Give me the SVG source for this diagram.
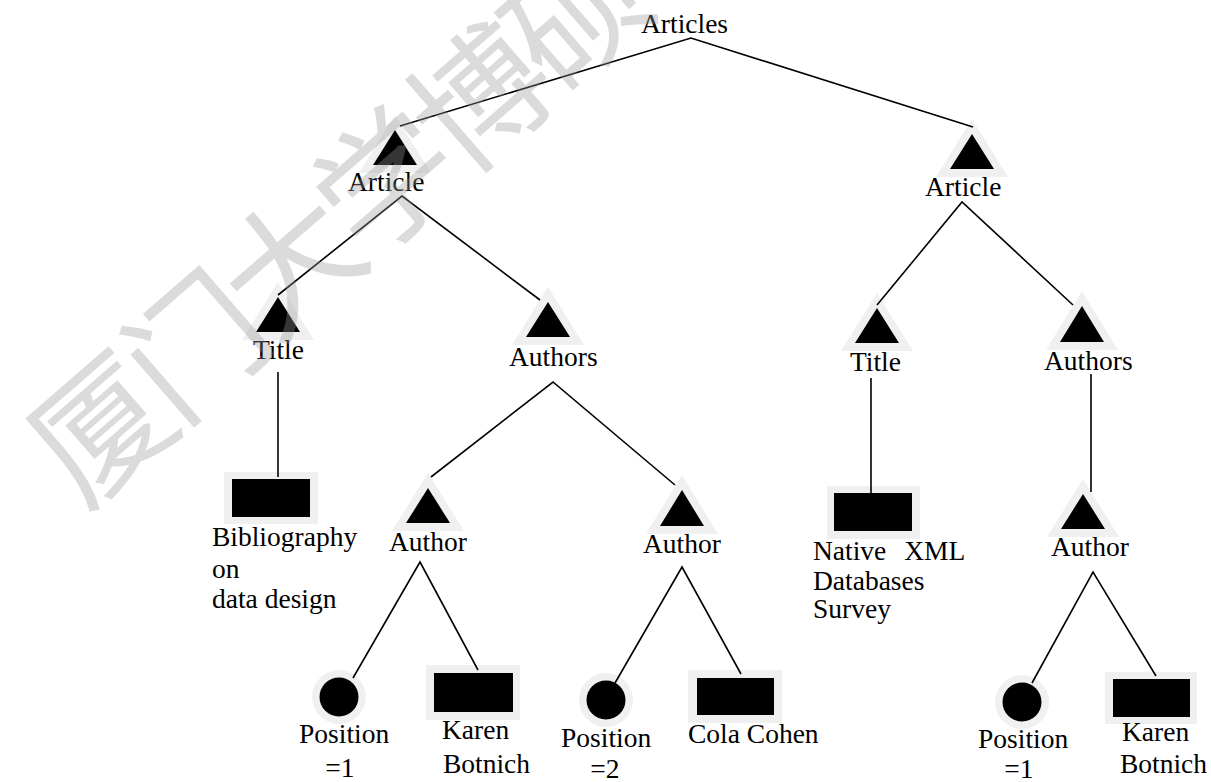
<svg xmlns="http://www.w3.org/2000/svg" width="1211" height="782" viewBox="0 0 1211 782">
<style>
.lbl{font-family:"Liberation Serif","Times New Roman",serif;font-size:27.5px;fill:#000}
.halo{fill:#f0f0f0}
.blk{fill:#000}
.edge{stroke:#000;stroke-width:1.6;fill:none}
.wm{font-family:"Noto Sans CJK SC","Noto Sans CJK TC",sans-serif;font-size:135px;fill:#999;opacity:0.35;letter-spacing:-9px}
</style>
<rect width="1211" height="782" fill="#fff"/>
<g id="halos">
<polygon class="halo" points="395,115 359,173 431,173"/>
<polygon class="halo" points="972,119 936,177 1008,177"/>
<polygon class="halo" points="278,282 242,340 314,340"/>
<polygon class="halo" points="548,287 512,345 584,345"/>
<polygon class="halo" points="877,293 841,351 913,351"/>
<polygon class="halo" points="1082,291 1046,350 1118,350"/>
<polygon class="halo" points="428,473 392,531 464,531"/>
<polygon class="halo" points="682,475 646,534 718,534"/>
<polygon class="halo" points="1083,479 1047,537 1119,537"/>
<rect class="halo" x="224" y="472" width="94" height="52"/>
<rect class="halo" x="426" y="665" width="94" height="55"/>
<rect class="halo" x="688" y="670" width="94" height="53"/>
<rect class="halo" x="827" y="486" width="93" height="53"/>
<rect class="halo" x="1105" y="672" width="92" height="52"/>
<circle class="halo" cx="339" cy="697" r="27"/>
<circle class="halo" cx="606" cy="700" r="27"/>
<circle class="halo" cx="1022" cy="702" r="27"/>
</g>
<g id="connectors">
<polyline class="edge" points="400,126 691,38 973,127"/>
<polyline class="edge" points="278,295 402,196 540,300"/>
<polyline class="edge" points="877,305 962,202 1073,305"/>
<line class="edge" x1="278" y1="372" x2="278" y2="477"/>
<polyline class="edge" points="431,477 553,382 675,485"/>
<line class="edge" x1="871" y1="378" x2="871" y2="493"/>
<line class="edge" x1="1091" y1="374" x2="1091" y2="492"/>
<polyline class="edge" points="353,678 420,562 478,670"/>
<polyline class="edge" points="615,683 682,567 741,674"/>
<polyline class="edge" points="1032,683 1093,572 1156,676"/>
</g>
<g id="n-articles"><text class="lbl" x="641" y="33">Articles</text></g>
<g id="n-article-l"><polygon class="blk" points="395,130 373,165 417,165"/><text class="lbl" x="348" y="191">Article</text></g>
<g id="n-article-r"><polygon class="blk" points="972,134 950,169 994,169"/><text class="lbl" x="925" y="196">Article</text></g>
<g id="n-title-l"><polygon class="blk" points="278,297 256,332 300,332"/><text class="lbl" x="253" y="359">Title</text></g>
<g id="n-authors-l"><polygon class="blk" points="548,302 526,337 570,337"/><text class="lbl" x="509" y="366">Authors</text></g>
<g id="n-title-r"><polygon class="blk" points="877,308 855,343 899,343"/><text class="lbl" x="850" y="371">Title</text></g>
<g id="n-authors-r"><polygon class="blk" points="1082,306 1060,342 1104,342"/><text class="lbl" x="1044" y="370">Authors</text></g>
<g id="n-biblio"><rect class="blk" x="232" y="479" width="78" height="38"/><text class="lbl" x="212" y="546">Bibliography</text><text class="lbl" x="212" y="578">on</text><text class="lbl" x="212" y="608">data design</text></g>
<g id="n-author-l"><polygon class="blk" points="428,488 406,523 450,523"/><text class="lbl" x="389" y="551">Author</text></g>
<g id="n-author-m"><polygon class="blk" points="682,490 660,526 704,526"/><text class="lbl" x="643" y="553">Author</text></g>
<g id="n-native"><rect class="blk" x="834" y="493" width="78" height="38"/><text class="lbl" x="813" y="560" word-spacing="11">Native XML</text><text class="lbl" x="813" y="590">Databases</text><text class="lbl" x="813" y="618">Survey</text></g>
<g id="n-author-r"><polygon class="blk" points="1083,494 1061,529 1105,529"/><text class="lbl" x="1051" y="556">Author</text></g>
<g id="n-pos-l"><circle class="blk" cx="339" cy="697" r="19.5"/><text class="lbl" x="299" y="743">Position</text><text class="lbl" x="340" y="777" text-anchor="middle">=1</text></g>
<g id="n-karen-l"><rect class="blk" x="434" y="673" width="79" height="39"/><text class="lbl" x="442" y="739">Karen</text><text class="lbl" x="443" y="773">Botnich</text></g>
<g id="n-pos-m"><circle class="blk" cx="606" cy="700" r="19.5"/><text class="lbl" x="561" y="747">Position</text><text class="lbl" x="605" y="778" text-anchor="middle">=2</text></g>
<g id="n-cola"><rect class="blk" x="697" y="678" width="77" height="37"/><text class="lbl" x="688" y="743">Cola Cohen</text></g>
<g id="n-pos-r"><circle class="blk" cx="1022" cy="702" r="19.5"/><text class="lbl" x="978" y="748">Position</text><text class="lbl" x="1019" y="778" text-anchor="middle">=1</text></g>
<g id="n-karen-r"><rect class="blk" x="1113" y="679" width="77" height="38"/><text class="lbl" x="1122" y="741">Karen</text><text class="lbl" x="1120" y="773">Botnich</text></g>
<g id="watermark"><text class="wm" transform="translate(329,218) rotate(-41)" x="0" y="0" text-anchor="middle" dominant-baseline="central">厦门大学博硕</text></g>
</svg>
